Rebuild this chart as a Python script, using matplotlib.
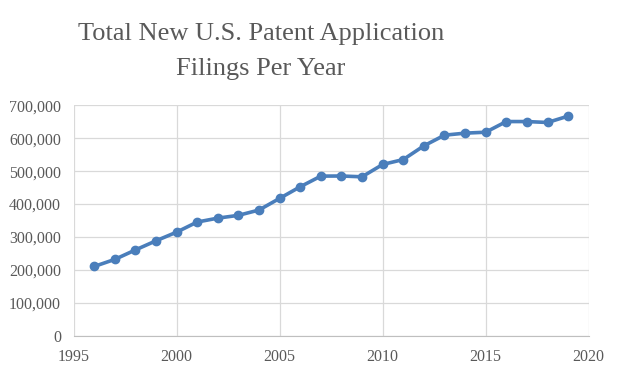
import matplotlib.pyplot as plt
from matplotlib.ticker import FuncFormatter

years = list(range(1996, 2020))
filings = [211013, 232424, 261041, 288811, 315015, 345732, 357531, 366043,
           382139, 417453, 452633, 484955, 485312, 482871, 520277, 535188,
           576763, 609052, 615243, 618062, 650411, 650350, 647572, 666843]

plt.rcParams['font.family'] = ['Liberation Serif', 'DejaVu Serif']

fig = plt.figure(figsize=(6.23, 3.73), dpi=100)
ax = fig.add_axes([0.118, 0.099, 0.827, 0.619])

ax.plot(years, filings, color='#4a7ebb', lw=2.6, marker='o', ms=6, zorder=3)

ax.set_xlim(1995, 2020)
ax.set_ylim(0, 700000)
ax.set_xticks(range(1995, 2021, 5))
ax.set_yticks(range(0, 700001, 100000))
ax.yaxis.set_major_formatter(FuncFormatter(lambda v, p: f'{int(v):,}'))

ax.grid(True, color='#d9d9d9', lw=0.9)
ax.set_axisbelow(True)
for s in ['top', 'right', 'left']:
    ax.spines[s].set_visible(False)
ax.spines['bottom'].set_color('#bfbfbf')
ax.tick_params(length=0, labelsize=11.5, colors='#595959')
ax.tick_params(axis='x', pad=9)
ax.tick_params(axis='y', pad=9)

fig.text(0.419, 0.862, 'Total New U.S. Patent Application\nFilings Per Year',
         ha='center', va='center', fontsize=19, color='#595959',
         linespacing=1.75)

fig.savefig('out.png', dpi=100)
